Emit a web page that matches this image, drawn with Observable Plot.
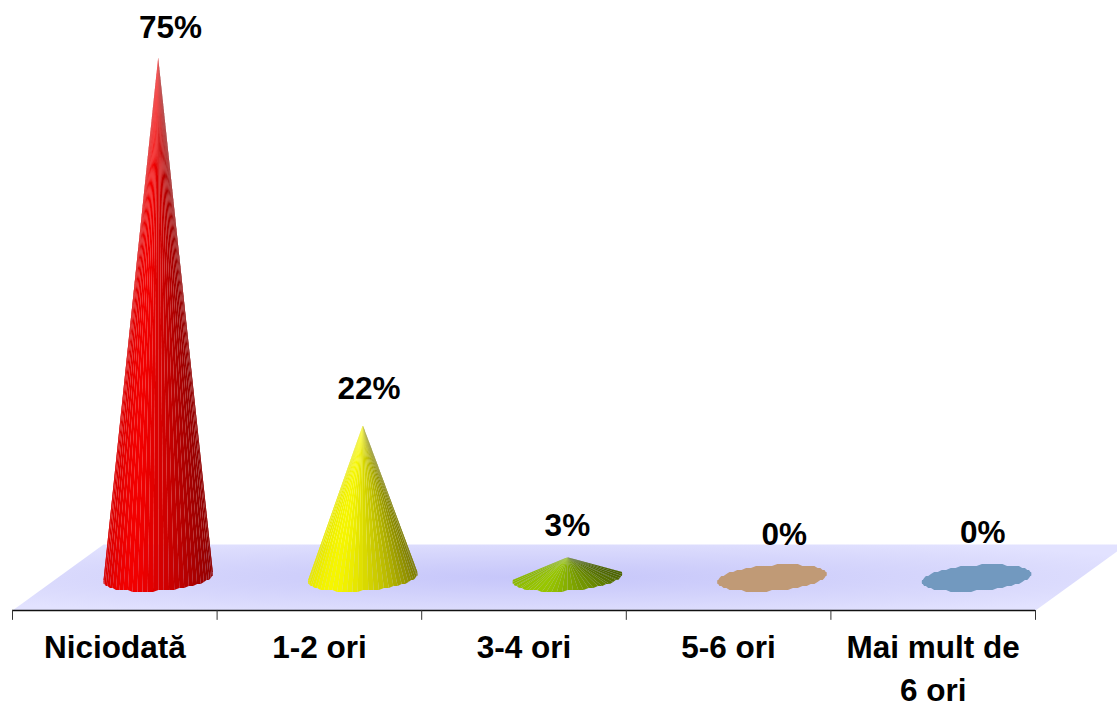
<!DOCTYPE html>
<html><head><meta charset="utf-8">
<script src="https://cdn.jsdelivr.net/npm/d3@7"></script>
<script src="https://cdn.jsdelivr.net/npm/@observablehq/plot@0.6"></script>
<style>html,body{margin:0;padding:0;background:#fff}svg{display:block}</style>
</head><body><div id="chart"></div>
<script>
const categories = ["Niciodată", "1-2 ori", "3-4 ori", "5-6 ori", "Mai mult de\n6 ori"];
const values = [75, 22, 3, 0, 0];
const valueLabels = ["75%", "22%", "3%", "0%", "0%"];
const palettes = [
  ["#d80000", "#ff0000", "#d80000", "#b80000", "#900000"],
  ["#e8e800", "#ffff00", "#dcdc00", "#bcbc00", "#7c7c00"],
  ["#8cb800", "#a0d000", "#84ac00", "#6c8c00", "#4c6400"],
  ["#c09a76", "#c09a76"],
  ["#7299bf", "#7299bf"]
];

// layout, in scale units
const W = 1117, H = 703;
const depth = 0.212, rx = 0.268, ry = 1.87, skew = 0.58;
const floorFront = -4.68, floorBack = 4.83, floorShift = 0.445;
const tickEnd = -6.1, labelY = -7.15;
const labelNudge = [[0.06, 4.2], [0.03, 5.2], [0, 4.55], [0.06, 6.2], [0.03, 6.5]];
const ticks = d3.range(0, categories.length + 1);
const nFacets = 32;

const rows = categories.map((c, i) => ({c, i, v: values[i], cx: i + 0.5 + depth}));
const rim = (r, t) => ({
  x: r.cx + rx * Math.cos(t),
  y: Math.round((ry * -Math.sin(t) + skew * Math.cos(t)) / 0.29) * 0.29
});
const bases = rows.filter(r => r.v === 0).flatMap(r =>
  d3.range(0, nFacets * 2).map(k => ({
    ...rim(r, k * Math.PI / nFacets), id: r.i,
    color: palettes[r.i][0]
  }))
);
const facets = rows.filter(r => r.v > 0).flatMap(r => {
  const shade = d3.interpolateRgbBasis(palettes[r.i]);
  return d3.range(nFacets + 4).flatMap(k => {
    const t0 = -0.2 + k * Math.PI / nFacets, t1 = t0 + Math.PI / nFacets;
    const id = `${r.i}-${k}`, color = shade((1 + Math.cos((t0 + t1) / 2)) / 2);
    return [
      {x: r.cx, y: r.v, id, color},
      {...rim(r, t0), id, color},
      {...rim(r, t1), id, color}
    ];
  });
});
const floor = [
  {x: ticks[0], y: floorFront},
  {x: ticks.at(-1), y: floorFront},
  {x: ticks.at(-1) + floorShift, y: floorBack},
  {x: ticks[0] + floorShift, y: floorBack}
];
const defs = () => {
  const d = d3.create("svg:defs");
  const g = d.append("radialGradient").attr("id", "floorFill").attr("cx", 0.47).attr("cy", 0.5).attr("r", 0.62);
  [[0, "#c6c6fa"], [0.35, "#cfcffb"], [0.8, "#dcdcfd"], [1, "#e2e2ff"]].forEach(([o, c]) => g.append("stop").attr("offset", o).attr("stop-color", c));
  return d.node();
};

const chart = Plot.plot({
  width: W, height: H,
  marginLeft: 0, marginRight: 0, marginTop: 0, marginBottom: 0,
  x: {domain: [0, 5], range: [12, 1035], axis: null},
  y: {domain: [-18.08, 83.21], range: [H, 0], axis: null},
  color: {type: "identity"},
  style: {background: "#fff", fontFamily: "'Liberation Sans', Arial, sans-serif"},
  marks: [
    defs,
    Plot.line([...floor, floor[0]], {x: "x", y: "y", fill: "url(#floorFill)", stroke: "none"}),
    Plot.ruleY([floorFront], {x1: ticks[0], x2: ticks.at(-1), stroke: "#111", strokeWidth: 1.5}),
    Plot.ruleX(ticks, {y1: floorFront, y2: tickEnd, stroke: "#333", strokeWidth: 1}),
    Plot.line(bases, {x: "x", y: "y", z: "id", fill: "color", stroke: "none"}),
    Plot.line(facets, {x: "x", y: "y", z: "id", fill: "color", stroke: "none"}),
    Plot.text(rows, {
      x: d => d.i + 0.5, y: labelY, text: "c", lineAnchor: "top", lineHeight: 1.365,
      fontSize: 31.5, fontWeight: "bold", fill: "#000"
    }),
    Plot.text(rows, {
      x: d => d.cx + labelNudge[d.i][0], y: d => d.v + labelNudge[d.i][1], text: d => valueLabels[d.i],
      fontSize: 31.5, fontWeight: "bold", fill: "#000"
    })
  ]
});
document.getElementById("chart").append(chart);
</script></body></html>
